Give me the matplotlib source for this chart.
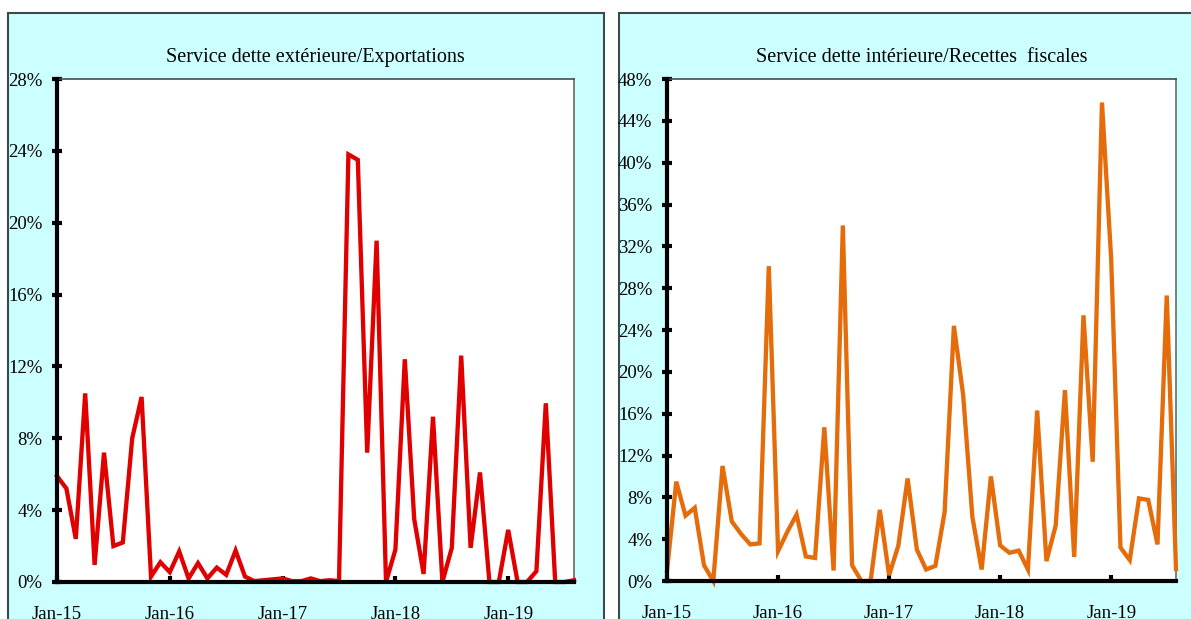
import numpy as np
import pandas as pd
import matplotlib
matplotlib.use("Agg")
import matplotlib.pyplot as plt
import matplotlib.patches as patches
from matplotlib.ticker import FuncFormatter

months = pd.date_range("2015-01-01", periods=56, freq="MS")
tick_labels = ["Jan-15", "Jan-16", "Jan-17", "Jan-18", "Jan-19"]

ext_ratio = [5.9, 5.2, 2.4, 10.5, 0.95, 7.2, 2.0, 2.2, 8.0, 10.3,
             0.3, 1.1, 0.55, 1.7, 0.2, 1.05, 0.2, 0.8, 0.4, 1.75,
             0.3, 0.05, 0.1, 0.15, 0.2, 0.05, 0.05, 0.2, 0.05, 0.1,
             0.05, 23.8, 23.5, 7.2, 19.0, 0.0, 1.8, 12.4, 3.5, 0.45,
             9.2, 0.0, 1.9, 12.6, 1.9, 6.1, 0.0, 0.0, 2.9, 0.0,
             0.0, 0.6, 9.95, 0.0, 0.0, 0.1]

int_ratio = [0.95, 9.5, 6.25, 7.0, 1.5, 0.0, 11.0, 5.7, 4.5, 3.5,
             3.6, 30.1, 2.85, 4.7, 6.35, 2.35, 2.2, 14.7, 1.0, 34.0,
             1.5, 0.0, 0.0, 6.8, 0.55, 3.4, 9.8, 3.0, 1.1, 1.45,
             6.6, 24.4, 17.8, 6.1, 1.1, 10.0, 3.4, 2.7, 2.9, 1.1,
             16.3, 1.9, 5.3, 18.25, 2.3, 25.4, 11.4, 45.75, 30.7, 3.2,
             2.0, 7.9, 7.75, 3.5, 27.3, 1.15]

W, H = 1191, 619
fig = plt.figure(figsize=(W / 100, H / 100), dpi=100)
fig.patch.set_facecolor("white")
plt.rcParams["font.family"] = ["Liberation Serif", "DejaVu Serif"]


def px_box(x0, x1, top, bottom):
    return [x0 / W, 1 - bottom / H, (x1 - x0) / W, (bottom - top) / H]


# panel frames (run past the bottom edge, as in the source)
for x0, x1 in [(8, 604), (619, 1200)]:
    fig.patches.append(patches.Rectangle(
        (x0 / W, -0.1), (x1 - x0) / W, 1.1 - 13 / H,
        transform=fig.transFigure, facecolor="#ccffff",
        edgecolor="#3a4a4a", linewidth=1.5, zorder=-5))

panels = [
    (px_box(57, 574, 79, 582), ext_ratio, "#e00000", 28,
     "Service dette extérieure/Exportations"),
    (px_box(667, 1176, 79, 581), int_ratio, "#e46c0a", 48,
     "Service dette intérieure/Recettes  fiscales"),
]

x = np.arange(len(months))
jan_idx = [i for i, m in enumerate(months) if m.month == 1]

for box, vals, color, ymax, title in panels:
    ax = fig.add_axes(box)
    ax.set_facecolor("white")
    ax.plot(x, vals, color=color, linewidth=3.1, solid_joinstyle="miter",
            zorder=3, clip_on=False)
    ax.set_xlim(0, len(months) - 1)
    ax.set_ylim(0, ymax)
    ax.set_yticks(np.arange(0, ymax + 1, 4))
    ax.yaxis.set_major_formatter(FuncFormatter(lambda v, p: f"{v:.0f}%"))
    ax.set_xticks(jan_idx)
    ax.set_xticklabels(tick_labels)
    ax.tick_params(axis="y", direction="inout", length=7, width=3,
                   color="black", labelsize=13.5, pad=7)
    ax.tick_params(axis="x", direction="in", length=4, width=3,
                   color="black", labelsize=13.5, pad=17)
    for s in ["left", "bottom"]:
        ax.spines[s].set_linewidth(3)
        ax.spines[s].set_color("black")
        ax.spines[s].set_zorder(4)
    ax.spines["top"].set_linewidth(1.2)
    ax.spines["top"].set_color("#4a4a4a")
    ax.spines["right"].set_linewidth(1.2)
    ax.spines["right"].set_color("#6a6a6a")
    ax.set_title(title, fontsize=14.5, pad=12)

fig.savefig("out.png", dpi=100)
